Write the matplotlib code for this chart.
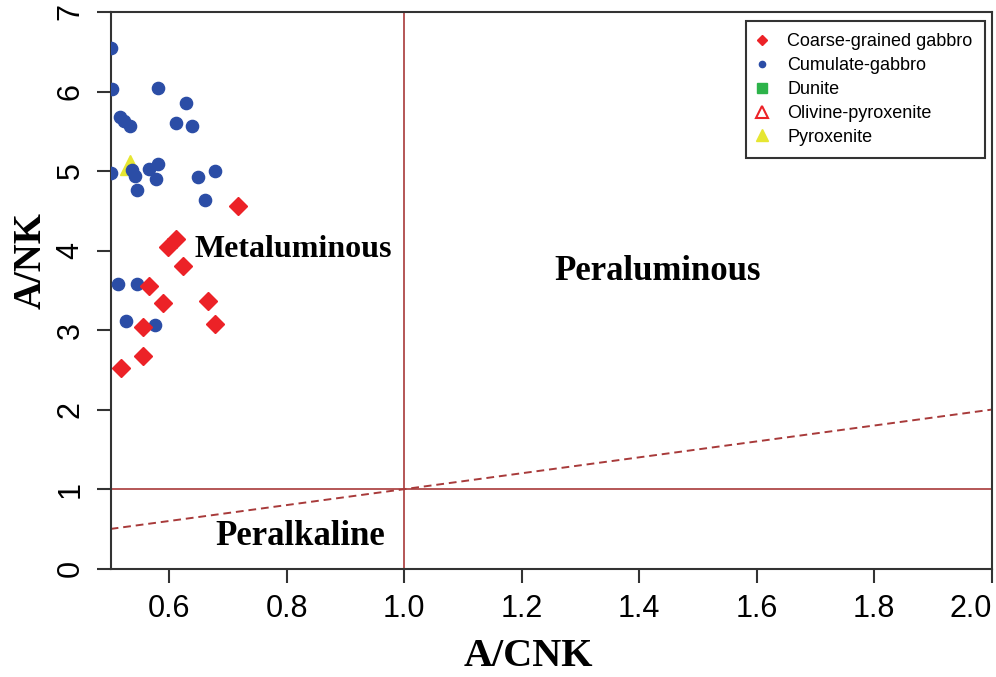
import matplotlib
matplotlib.use("Agg")
import matplotlib.pyplot as plt
from matplotlib.lines import Line2D

# ---- data ----
coarse_x = [0.717, 0.597, 0.611, 0.623, 0.566, 0.589, 0.666, 0.678, 0.555, 0.555, 0.518]
coarse_y = [4.555, 4.05, 4.14, 3.80, 3.55, 3.34, 3.36, 3.08, 3.04, 2.68, 2.52]

cumulate_x = [0.500, 0.502, 0.580, 0.628, 0.516, 0.523, 0.533, 0.612, 0.638, 0.500,
              0.536, 0.542, 0.566, 0.580, 0.577, 0.649, 0.677, 0.545, 0.660,
              0.512, 0.545, 0.526, 0.576]
cumulate_y = [6.545, 6.03, 6.05, 5.86, 5.685, 5.63, 5.57, 5.60, 5.57, 4.97,
              5.01, 4.94, 5.02, 5.09, 4.90, 4.92, 5.00, 4.76, 4.63,
              3.585, 3.585, 3.12, 3.06]

pyroxenite_x = [0.533]
pyroxenite_y = [5.08]

dunite_x = []
dunite_y = []
olpyx_x = []
olpyx_y = []

ref_x = [0.5, 2.0]
ref_y = [0.5, 2.0]

xticks = [0.6, 0.8, 1.0, 1.2, 1.4, 1.6, 1.8, 2.0]
yticks = [0, 1, 2, 3, 4, 5, 6, 7]

legend_labels = ["Coarse-grained gabbro", "Cumulate-gabbro", "Dunite",
                 "Olivine-pyroxenite", "Pyroxenite"]

# ---- styles ----
RED = "#EC2227"
BLUE = "#2B4DA6"
GREEN = "#2DB34A"
YELLOW = "#E6E632"
BROWN = "#A83A3A"
SERIF = "Liberation Serif"
SANS = "Liberation Sans"

fig = plt.figure(figsize=(9.96, 6.77), dpi=100)
ax = fig.add_axes([0.1111, 0.160, 0.8844, 0.8223])

ax.set_xlim(0.5, 2.0)
ax.set_ylim(0, 7)

ax.axvline(1.0, color=BROWN, lw=1.2, zorder=1)
ax.axhline(1.0, color=BROWN, lw=1.2, zorder=1)
ax.plot(ref_x, ref_y, color=BROWN, lw=1.4, ls=(0, (4, 2.5)), zorder=1)

ax.plot(pyroxenite_x, pyroxenite_y, ls="none", marker="^", ms=15,
        color=YELLOW, mec=YELLOW, zorder=2)
ax.plot(dunite_x, dunite_y, ls="none", marker="s", color=GREEN, zorder=2)
ax.plot(olpyx_x, olpyx_y, ls="none", marker="^", mfc="none", mec=RED, zorder=2)
ax.plot(cumulate_x, cumulate_y, ls="none", marker="o", ms=8.8,
        color=BLUE, mec=BLUE, zorder=3)
ax.plot(coarse_x, coarse_y, ls="none", marker="D", ms=9.0,
        color=RED, mec=RED, zorder=4)

ax.text(0.8106, 4.01, "Metaluminous", family=SERIF, weight="bold", fontsize=23,
        ha="center", va="center")
ax.text(1.432, 3.735, "Peraluminous", family=SERIF, weight="bold", fontsize=25,
        ha="center", va="center")
ax.text(0.823, 0.40, "Peralkaline", family=SERIF, weight="bold", fontsize=25,
        ha="center", va="center")

ax.set_xticks(xticks)
xt = ax.set_xticklabels([f"{v:.1f}" for v in xticks], family=SANS, fontsize=22)
xt[-1].set_ha("right")
ax.set_yticks(yticks)
ax.set_yticklabels([str(v) for v in yticks], family=SANS, fontsize=22,
                   rotation=90, va="center")
ax.tick_params(axis="both", direction="out", length=10, width=1.5, color="#333333")
ax.tick_params(axis="x", pad=8)
ax.tick_params(axis="y", pad=8)

for s in ax.spines.values():
    s.set_linewidth(1.5)
    s.set_color("#333333")

ax.set_xlabel("A/CNK", family=SERIF, weight="bold", fontsize=29)
ax.set_ylabel("A/NK", family=SERIF, weight="bold", fontsize=28)
ax.xaxis.label.set_va("center")
ax.yaxis.label.set_va("center")
ax.xaxis.set_label_coords(0.474, -0.158)
ax.yaxis.set_label_coords(-0.090, 0.553)

handles = [
    Line2D([], [], ls="none", marker="D", ms=5.5, color=RED, mec=RED),
    Line2D([], [], ls="none", marker="o", ms=4.5, color=BLUE, mec=BLUE),
    Line2D([], [], ls="none", marker="s", ms=7, color=GREEN, mec=GREEN),
    Line2D([], [], ls="none", marker="^", ms=8, mfc="none", mec=RED, mew=1.5),
    Line2D([], [], ls="none", marker="^", ms=8, color=YELLOW, mec=YELLOW),
]
leg = ax.legend(handles, legend_labels, loc="upper left",
                bbox_to_anchor=(0.721, 0.9844), borderaxespad=0,
                prop={"family": SANS, "size": 13}, frameon=True, fancybox=False,
                edgecolor="#333333", framealpha=1, borderpad=0.7,
                handlelength=0.4, handletextpad=1.2, labelspacing=0.38)
leg.get_frame().set_linewidth(1.5)

fig.savefig("out.png", dpi=100)
